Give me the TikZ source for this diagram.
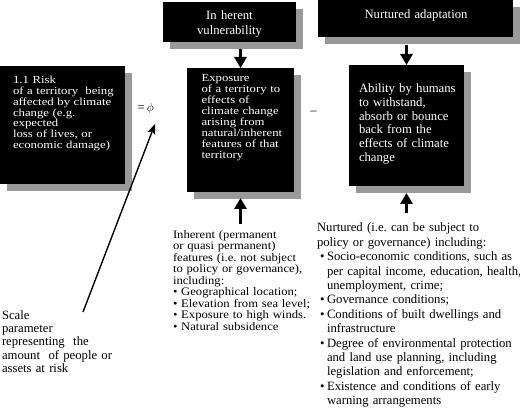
\documentclass[tikz,border=0pt]{standalone}
\usepackage{fontspec}
\setmainfont{Liberation Serif}
\newfontfamily\widefont[FakeStretch=1.18]{Liberation Serif}
\newfontfamily\midfont[FakeStretch=1.1]{Liberation Serif}
\usetikzlibrary{arrows.meta,shadows,calc}
\frenchspacing
\newcommand\setfs[1]{\frenchspacing\fontsize{12.7pt}{#1pt}\selectfont\lineskiplimit=-50pt\lineskip=0pt}
\newcommand\setwfs[2]{\frenchspacing\widefont\fontsize{#1pt}{#2pt}\selectfont\lineskiplimit=-50pt\lineskip=0pt}
\newcommand\setmfs[2]{\frenchspacing\midfont\fontsize{#1pt}{#2pt}\selectfont\lineskiplimit=-50pt\lineskip=0pt}
\tikzset{
  boxshape/.style={fill=black, inner sep=0pt, outer sep=0pt, anchor=north west,
    general shadow={fill=black!40, shadow xshift=7pt, shadow yshift=-7pt}},
  wtext/.style={text=white, anchor=base west, inner sep=0pt, outer sep=0pt, align=left, text width=160pt},
  btext/.style={text=black, anchor=base west, inner sep=0pt, outer sep=0pt, align=left, text width=230pt},
  htext/.style={text=white, anchor=base, inner sep=0pt, outer sep=0pt, align=center, text width=130pt},
  bigarrow/.style={line width=3.4pt, -{Triangle[width=12pt,length=11pt]}},
  thinarrow/.style={line width=1.4pt, -{Stealth[length=10pt,width=8pt,inset=2pt]}},
}
\begin{document}
\begin{tikzpicture}[x=1pt,y=-1pt]
\useasboundingbox[fill=white] (0,0) rectangle (520,417);
% boxes
\node[boxshape, minimum width=133pt, minimum height=40pt] (inh) at (163,2) {};
\node[boxshape, minimum width=195pt, minimum height=37pt] (nurt) at (318,0) {};
\node[boxshape, minimum width=125pt, minimum height=118pt] (risk) at (0,66) {};
\node[boxshape, minimum width=107pt, minimum height=124pt] (exp) at (187,68) {};
\node[boxshape, minimum width=115pt, minimum height=121pt] (abil) at (349,65) {};
% box texts
\node[htext, font=\setfs{15.7}] (inhlabel) at (229.5,19.3) {In herent\\vulnerability};
\node[htext, font=\setfs{15}, text width=190pt] (nurtlabel) at (416,18.5) {Nurtured adaptation};
\node[wtext, font=\setwfs{10.8}{10.7}] (risklabel) at (13,84) {1.1 Risk\\of a territory\ \ being\\affected by climate\\change (e.g.\\expected\\loss of lives, or\\economic damage)};
\node[wtext, font=\setwfs{10.8}{10.9}] (explabel) at (201.5,82) {Exposure\\of a territory to\\effects of\\climate change\\arising from\\natural/inherent\\features of that\\territory};
\node[wtext, font=\setfs{13.9}] (abillabel) at (359,92.3) {Ability by humans\\to withstand,\\absorb or bounce\\back from the\\effects of climate\\change};
% operators
\node[anchor=west, inner sep=0pt, font=\setfs{15}] (phi) at (137.5,109) {=\,$\phi$};
\node[anchor=center, inner sep=0pt, font=\setfs{15}] (minus) at (313.5,113) {–};
% lower texts
\node[btext, font=\setmfs{11.5}{11.5}] (inhtext) at (173,238.5) {Inherent (permanent\\or quasi permanent)\\features (i.e. not subject\\to policy or governance),\\including:\\•\ Geographical location;\\•\ Elevation from sea level;\\•\ Exposure to high winds.\\•\ Natural subsidence};
\node[btext, font=\setfs{14.4}] (nurttext) at (317,232) {Nurtured (i.e. can be subject to\\policy or governance) including:\\\hspace*{3pt}\makebox[7pt][l]{•}Socio-economic conditions, such as\\\hspace*{10pt}per capital income, education, health,\\\hspace*{10pt}unemployment, crime;\\\hspace*{3pt}\makebox[7pt][l]{•}Governance conditions;\\\hspace*{3pt}\makebox[7pt][l]{•}Conditions of built dwellings and\\\hspace*{10pt}infrastructure\\\hspace*{3pt}\makebox[7pt][l]{•}Degree of environmental protection\\\hspace*{10pt}and land use planning, including\\\hspace*{10pt}legislation and enforcement;\\\hspace*{3pt}\makebox[7pt][l]{•}Existence and conditions of early\\\hspace*{10pt}warning arrangements};
\node[btext, font=\setfs{13.2}] (scaletext) at (2,319.5) {Scale\\parameter\\representing\ \ the\\amount\ \ of people or\\assets at risk};
% connectors
\draw[bigarrow] ($(exp.north |- inh.south)+(0,7)$) -- (exp.north);
\draw[bigarrow] ($(abil.north |- nurt.south)+(0,8)$) -- (abil.north);
\draw[bigarrow] ($(exp.south |- inhtext.north)+(0,-7)$) -- ($(exp.south)+(0,6)$);
\draw[bigarrow] ($(abil.south |- nurttext.north)+(0,-10)$) -- ($(abil.south)+(0,7)$);
\coordinate (scaletop) at (83,312);
\coordinate (phitip) at (155,124);
\draw[thinarrow] (scaletop) -- (phitip);
\end{tikzpicture}
\end{document}
